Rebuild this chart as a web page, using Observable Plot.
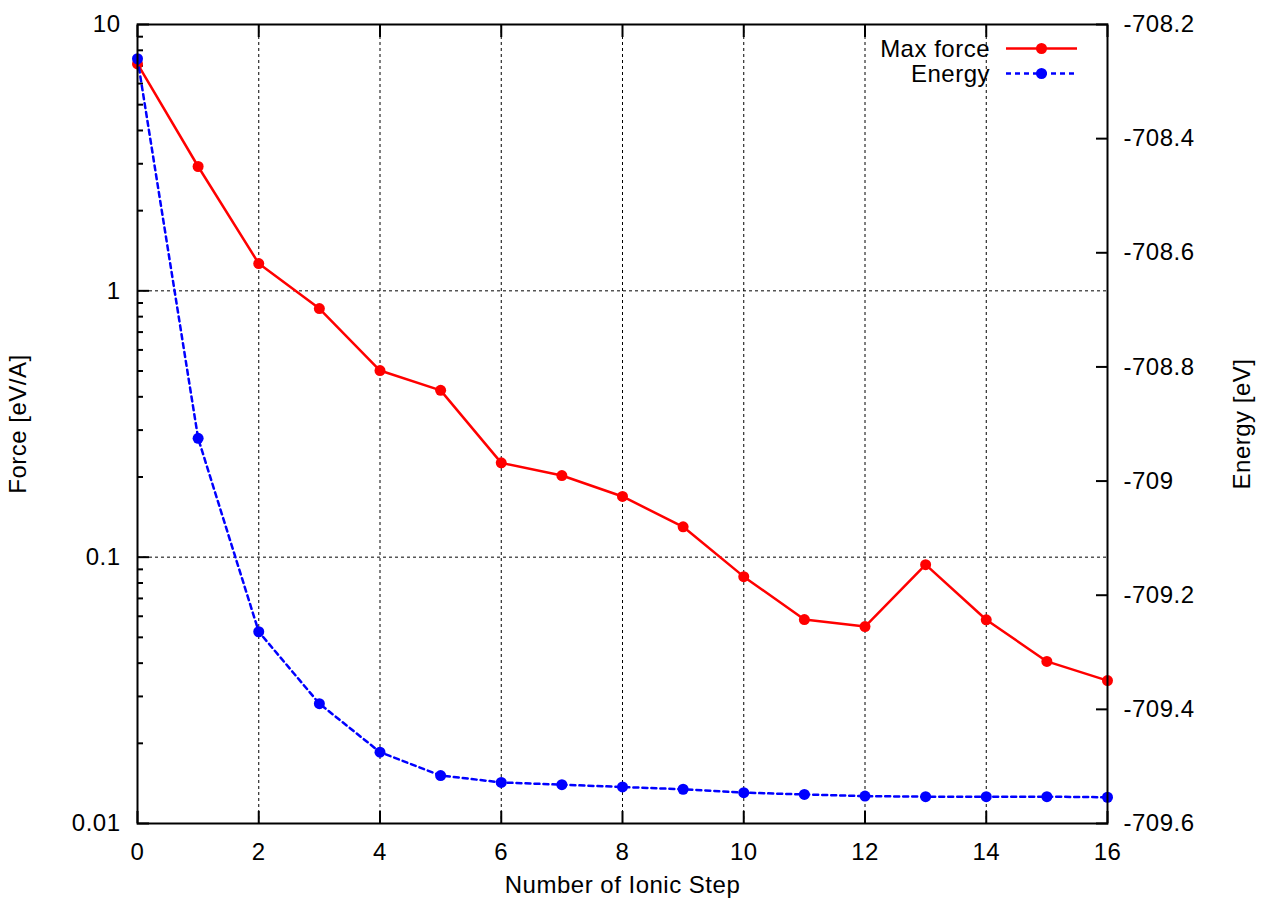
<!DOCTYPE html>
<html>
<head>
<meta charset="utf-8">
<script src="https://cdn.jsdelivr.net/npm/d3@7"></script>
<script src="https://cdn.jsdelivr.net/npm/@observablehq/plot@0.6"></script>
<style>
  body { margin: 0; background: #fff; }
  #wrap { position: relative; width: 1265px; height: 905px; font-family: "Liberation Sans", Arial, Helvetica, sans-serif; }
  #legend { position: absolute; left: 0; top: 0; pointer-events: none; }
  svg text { letter-spacing: 0.5px; }
</style>
</head>
<body>
<div id="wrap"></div>
<script>
// ---- data ----
const steps = [0, 1, 2, 3, 4, 5, 6, 7, 8, 9, 10, 11, 12, 13, 14, 15, 16];
const maxForce = [7.11, 2.93, 1.266, 0.858, 0.502, 0.423, 0.226, 0.2025, 0.169, 0.130, 0.0845, 0.0583, 0.0549, 0.0937, 0.0582, 0.0406, 0.0344];
const energy = [-708.260, -708.925, -709.264, -709.390, -709.475, -709.516, -709.528, -709.532, -709.536, -709.540, -709.546, -709.549, -709.552, -709.553, -709.553, -709.553, -709.554];

const xTicks = [0, 2, 4, 6, 8, 10, 12, 14, 16];
const xGridTicks = [2, 4, 6, 8, 10, 12, 14];
const forceTicks = [0.01, 0.1, 1, 10];
const forceTickLabels = ["0.01", "0.1", "1", "10"];
const forceGridTicks = [0.1, 1];
const forceMinorTicks = [0.02, 0.03, 0.04, 0.05, 0.06, 0.07, 0.08, 0.09,
                         0.2, 0.3, 0.4, 0.5, 0.6, 0.7, 0.8, 0.9,
                         2, 3, 4, 5, 6, 7, 8, 9];
const forceDomain = [0.01, 10];
const energyDomain = [-709.6, -708.2];
const energyTicks = [-709.6, -709.4, -709.2, -709.0, -708.8, -708.6, -708.4, -708.2];
const energyTickLabels = ["-709.6", "-709.4", "-709.2", "-709", "-708.8", "-708.6", "-708.4", "-708.2"];

const seriesNames = ["Max force", "Energy"];
const seriesColors = ["#ff0000", "#0000ff"];

// map energy (right axis, linear) onto the left log scale
const lf0 = Math.log10(forceDomain[0]), lf1 = Math.log10(forceDomain[1]);
const eToY = e => 10 ** (lf0 + (lf1 - lf0) * (e - energyDomain[0]) / (energyDomain[1] - energyDomain[0]));

const forceData = steps.map((s, i) => ({step: s, value: maxForce[i]}));
const energyData = steps.map((s, i) => ({step: s, value: eToY(energy[i])}));

const energyTickData = energyTicks.map((e, i) => ({y: eToY(e), label: energyTickLabels[i]}));
const forceTickData = forceTicks.map((f, i) => ({y: f, label: forceTickLabels[i]}));
const xTickData = xTicks.map(x => ({x, label: String(x)}));

const gridStyle = {stroke: "#000", strokeOpacity: 1, strokeWidth: 1, strokeDasharray: "3,3"};

const chart = Plot.plot({
  width: 1265,
  height: 905,
  marginLeft: 137,
  marginRight: 158,
  marginTop: 24,
  marginBottom: 82,
  style: {fontFamily: '"Liberation Sans", Arial, Helvetica, sans-serif', fontSize: "24px", background: "#fff", color: "#000"},
  x: {domain: [0, 16]},
  y: {type: "log", domain: forceDomain},
  marks: [
    Plot.gridX(xGridTicks, gridStyle),
    Plot.gridY(forceGridTicks, gridStyle),
    // tick marks (inward)
    Plot.axisX({ticks: xTicks, anchor: "bottom", tickSize: 12, dy: -12, fill: "none", label: null, strokeWidth: 2}),
    Plot.axisX({ticks: xTicks, anchor: "top", tickSize: 12, dy: 12, fill: "none", label: null, strokeWidth: 2}),
    Plot.axisY({ticks: forceTicks, anchor: "left", tickSize: 12, dx: 12, fill: "none", label: null, strokeWidth: 2}),
    Plot.axisY({ticks: forceMinorTicks, anchor: "left", tickSize: 6, dx: 6, fill: "none", label: null, strokeWidth: 2}),
    Plot.axisY({ticks: energyTickData.map(d => d.y), anchor: "right", tickSize: 12, dx: -12, fill: "none", label: null, strokeWidth: 2}),
    // tick labels
    Plot.text(xTickData, {x: "x", text: "label", frameAnchor: "bottom", dy: 19, lineAnchor: "top", textAnchor: "middle"}),
    Plot.text(forceTickData, {y: "y", text: "label", frameAnchor: "left", dx: -17, textAnchor: "end", lineAnchor: "middle"}),
    Plot.text(energyTickData, {y: "y", text: "label", frameAnchor: "right", dx: 16, textAnchor: "start", lineAnchor: "middle"}),
    // axis titles
    Plot.text(["Number of Ionic Step"], {frameAnchor: "bottom", dy: 62, text: d => d, textAnchor: "middle", lineAnchor: "middle"}),
    Plot.text(["Force [eV/A]"], {frameAnchor: "left", dx: -119.5, rotate: -90, text: d => d, textAnchor: "middle", lineAnchor: "middle"}),
    Plot.text(["Energy [eV]"], {frameAnchor: "right", dx: 134.5, rotate: -90, text: d => d, textAnchor: "middle", lineAnchor: "middle"}),
    // series
    Plot.line(forceData, {x: "step", y: "value", stroke: seriesColors[0], strokeWidth: 2.5}),
    Plot.dot(forceData, {x: "step", y: "value", r: 5.5, fill: seriesColors[0], stroke: "none"}),
    Plot.line(energyData, {x: "step", y: "value", stroke: seriesColors[1], strokeWidth: 2.5, strokeDasharray: "5,4"}),
    Plot.dot(energyData, {x: "step", y: "value", r: 5.5, fill: seriesColors[1], stroke: "none"}),
    Plot.frame({stroke: "#000", strokeWidth: 2})
  ]
});

const wrap = document.getElementById("wrap");
wrap.appendChild(chart);

// legend overlay (top-right inside the frame)
const ns = "http://www.w3.org/2000/svg";
const lg = document.createElementNS(ns, "svg");
lg.setAttribute("id", "legend");
lg.setAttribute("width", 1265);
lg.setAttribute("height", 905);
const rowsY = [48.5, 73.5];
seriesNames.forEach((name, i) => {
  const t = document.createElementNS(ns, "text");
  t.setAttribute("x", 990);
  t.setAttribute("y", rowsY[i] + 8);
  t.setAttribute("text-anchor", "end");
  t.setAttribute("font-size", "24");
  t.setAttribute("font-family", '"Liberation Sans", Arial, Helvetica, sans-serif');
  t.textContent = name;
  lg.appendChild(t);
  const l = document.createElementNS(ns, "line");
  l.setAttribute("x1", 1006);
  l.setAttribute("x2", i === 0 ? 1077 : 1074);
  l.setAttribute("y1", rowsY[i]);
  l.setAttribute("y2", rowsY[i]);
  l.setAttribute("stroke", seriesColors[i]);
  l.setAttribute("stroke-width", 2.5);
  if (i === 1) l.setAttribute("stroke-dasharray", "5,4");
  lg.appendChild(l);
  const c = document.createElementNS(ns, "circle");
  c.setAttribute("cx", 1041.5);
  c.setAttribute("cy", rowsY[i]);
  c.setAttribute("r", 5.5);
  c.setAttribute("fill", seriesColors[i]);
  lg.appendChild(c);
});
wrap.appendChild(lg);
</script>
</body>
</html>
